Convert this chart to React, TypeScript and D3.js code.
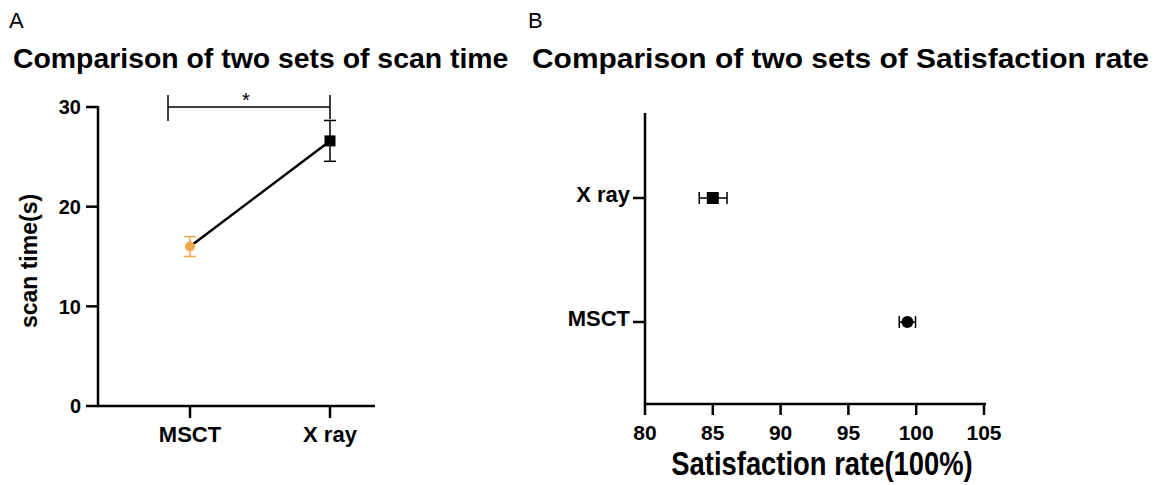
import React, { useEffect, useRef } from "react";
import * as d3 from "d3";

const scanGroups = ["MSCT", "X ray"];
const scanMeans = [16.0, 26.6];
const scanSD = [1.0, 2.05];
const scanColors = ["#F5A54A", "#000000"];
const scanTicks = [0, 10, 20, 30];

const satGroups = ["X ray", "MSCT"];
const satMeans = [85.0, 99.35];
const satLow = [84.0, 98.75];
const satHigh = [86.05, 99.95];
const satTicks = [80, 85, 90, 95, 100, 105];

const FONT = "'Liberation Sans', Arial, sans-serif";

export default function App() {
  const ref = useRef<SVGSVGElement>(null);
  useEffect(() => {
    const svg = d3.select(ref.current);
    svg.selectAll("*").remove();
    svg.attr("font-family", FONT);

    // Panel labels and titles
    svg.append("text").attr("x", 9).attr("y", 28).attr("font-size", 22).text("A");
    svg.append("text").attr("x", 528).attr("y", 28).attr("font-size", 22).text("B");
    svg.append("text").attr("x", 13).attr("y", 68).attr("font-size", 28.4).attr("font-weight", "bold")
      .text("Comparison of two sets of scan time");
    svg.append("text").attr("x", 532).attr("y", 68).attr("font-size", 28.4).attr("font-weight", "bold")
      .attr("textLength", 617).attr("lengthAdjust", "spacingAndGlyphs")
      .text("Comparison of two sets of Satisfaction rate");

    // ---------- Panel A ----------
    const y = d3.scaleLinear().domain([0, 30]).range([406, 107]);
    const x = d3.scalePoint<string>().domain(scanGroups).range([190, 330]);
    const gA = svg.append("g");

    gA.append("line").attr("x1", 98).attr("x2", 98).attr("y1", 106).attr("y2", 407)
      .attr("stroke", "#000").attr("stroke-width", 2.5);
    gA.append("line").attr("x1", 97).attr("x2", 375).attr("y1", 406).attr("y2", 406)
      .attr("stroke", "#000").attr("stroke-width", 2.5);
    scanTicks.forEach((t) => {
      gA.append("line").attr("x1", 86).attr("x2", 98).attr("y1", y(t)).attr("y2", y(t))
        .attr("stroke", "#000").attr("stroke-width", 2.5);
      gA.append("text").attr("x", 81).attr("y", y(t)).attr("dy", "0.36em").attr("text-anchor", "end")
        .attr("font-size", 20).attr("font-weight", "bold").text(t);
    });
    scanGroups.forEach((g) => {
      gA.append("line").attr("x1", x(g)!).attr("x2", x(g)!).attr("y1", 406).attr("y2", 418)
        .attr("stroke", "#000").attr("stroke-width", 2.5);
      gA.append("text").attr("x", x(g)!).attr("y", 442).attr("text-anchor", "middle")
        .attr("font-size", 22).attr("font-weight", "bold").text(g);
    });
    gA.append("text").attr("transform", `translate(37,261) rotate(-90)`).attr("text-anchor", "middle")
      .attr("font-size", 23).attr("font-weight", "bold").text("scan time(s)");

    // connecting line
    const line = d3.line<number>().x((_, i) => x(scanGroups[i])!).y((d) => y(d));
    gA.append("path").attr("d", line(scanMeans)!).attr("fill", "none").attr("stroke", "#000")
      .attr("stroke-width", 2.5);

    // error bars
    scanGroups.forEach((g, i) => {
      const cx = x(g)!;
      const c = scanColors[i];
      const lo = y(scanMeans[i] - scanSD[i]);
      const hi = y(scanMeans[i] + scanSD[i]);
      gA.append("line").attr("x1", cx).attr("x2", cx).attr("y1", lo).attr("y2", hi)
        .attr("stroke", c).attr("stroke-width", 1.5);
      [lo, hi].forEach((yy) =>
        gA.append("line").attr("x1", cx - 6).attr("x2", cx + 6).attr("y1", yy).attr("y2", yy)
          .attr("stroke", c).attr("stroke-width", 1.5)
      );
    });
    // markers
    gA.append("circle").attr("cx", x(scanGroups[0])!).attr("cy", y(scanMeans[0])).attr("r", 5)
      .attr("fill", scanColors[0]);
    gA.append("rect").attr("x", x(scanGroups[1])! - 5.5).attr("y", y(scanMeans[1]) - 5.5)
      .attr("width", 11).attr("height", 11).attr("fill", scanColors[1]);

    // significance bracket
    const by = y(30);
    gA.append("line").attr("x1", 168).attr("x2", x(scanGroups[1])!).attr("y1", by).attr("y2", by)
      .attr("stroke", "#000").attr("stroke-width", 1.5);
    gA.append("line").attr("x1", 168).attr("x2", 168).attr("y1", by - 12).attr("y2", by + 14)
      .attr("stroke", "#000").attr("stroke-width", 1.5);
    gA.append("line").attr("x1", x(scanGroups[1])!).attr("x2", x(scanGroups[1])!).attr("y1", by - 12).attr("y2", by + 12)
      .attr("stroke", "#000").attr("stroke-width", 1.5);
    gA.append("text").attr("x", 246).attr("y", by).attr("text-anchor", "middle")
      .attr("font-size", 20).text("*");

    // ---------- Panel B ----------
    const xs = d3.scaleLinear().domain([80, 105]).range([645, 984]);
    const ys = d3.scalePoint<string>().domain(satGroups).range([198, 322]);
    const gB = svg.append("g");
    gB.append("line").attr("x1", 645).attr("x2", 645).attr("y1", 113).attr("y2", 405)
      .attr("stroke", "#000").attr("stroke-width", 2.5);
    gB.append("line").attr("x1", 644).attr("x2", 986).attr("y1", 404).attr("y2", 404)
      .attr("stroke", "#000").attr("stroke-width", 2.5);
    satTicks.forEach((t) => {
      gB.append("line").attr("x1", xs(t)).attr("x2", xs(t)).attr("y1", 404).attr("y2", 415)
        .attr("stroke", "#000").attr("stroke-width", 2.5);
      gB.append("text").attr("x", xs(t)).attr("y", 440).attr("text-anchor", "middle")
        .attr("font-size", 21).attr("font-weight", "bold").text(t);
    });
    satGroups.forEach((g) => {
      gB.append("line").attr("x1", 633).attr("x2", 645).attr("y1", ys(g)!).attr("y2", ys(g)!)
        .attr("stroke", "#000").attr("stroke-width", 2.5);
      gB.append("text").attr("x", 630).attr("y", ys(g)! + 4).attr("text-anchor", "end")
        .attr("font-size", 22).attr("font-weight", "bold").text(g);
    });
    gB.append("text").attr("transform", "translate(822,475) scale(1,1.2)").attr("text-anchor", "middle")
      .attr("font-size", 27.4).attr("font-weight", "bold").text("Satisfaction rate(100%)");

    satGroups.forEach((g, i) => {
      const cy = ys(g)!;
      const l = xs(satLow[i]);
      const h = xs(satHigh[i]);
      gB.append("line").attr("x1", l).attr("x2", h).attr("y1", cy).attr("y2", cy)
        .attr("stroke", "#000").attr("stroke-width", 1.5);
      [l, h].forEach((xx) =>
        gB.append("line").attr("x1", xx).attr("x2", xx).attr("y1", cy - 6).attr("y2", cy + 6)
          .attr("stroke", "#000").attr("stroke-width", 1.5)
      );
      if (g === "X ray") {
        gB.append("rect").attr("x", xs(satMeans[i]) - 6).attr("y", cy - 6).attr("width", 12).attr("height", 12)
          .attr("fill", "#000");
      } else {
        gB.append("circle").attr("cx", xs(satMeans[i])).attr("cy", cy).attr("r", 6).attr("fill", "#000");
      }
    });
  }, []);

  return (
    <svg
      ref={ref}
      width={1156}
      height={485}
      style={{ position: "absolute", left: 0, top: 0, display: "block", background: "#fff" }}
    />
  );
}
